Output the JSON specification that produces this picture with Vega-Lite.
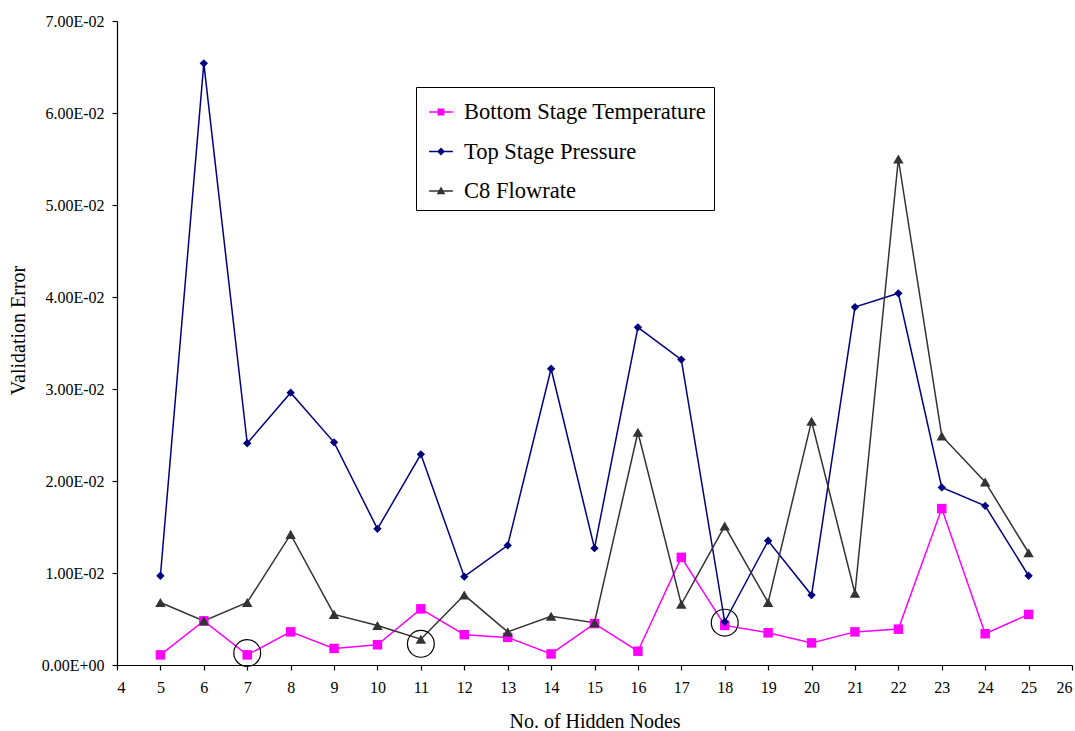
{
  "$schema": "https://vega.github.io/schema/vega-lite/v6.json",
  "width": 955,
  "height": 644,
  "autosize": "none",
  "padding": {"left": 117, "top": 21, "right": 3, "bottom": 66},
  "background": "white",
  "config": {
    "font": "Liberation Serif",
    "view": {"stroke": null},
    "axis": {
      "grid": false,
      "domainColor": "black",
      "tickColor": "black",
      "labelColor": "black",
      "titleColor": "black",
      "labelFont": "Liberation Serif",
      "titleFont": "Liberation Serif",
      "labelFontSize": 16,
      "titleFontSize": 20,
      "titleFontWeight": "normal",
      "tickSize": 5,
      "domainWidth": 1.2,
      "tickWidth": 1.2
    },
    "legend": {
      "labelFont": "Liberation Serif",
      "labelFontSize": 22.5,
      "labelColor": "black",
      "labelLimit": 0
    }
  },
  "datasets": {
    "errors": [
      {"nodes": 5, "series": "Bottom Stage Temperature", "error": 0.0011},
      {"nodes": 6, "series": "Bottom Stage Temperature", "error": 0.0048},
      {"nodes": 7, "series": "Bottom Stage Temperature", "error": 0.0011},
      {"nodes": 8, "series": "Bottom Stage Temperature", "error": 0.0036},
      {"nodes": 9, "series": "Bottom Stage Temperature", "error": 0.0018},
      {"nodes": 10, "series": "Bottom Stage Temperature", "error": 0.0022},
      {"nodes": 11, "series": "Bottom Stage Temperature", "error": 0.0061},
      {"nodes": 12, "series": "Bottom Stage Temperature", "error": 0.0033},
      {"nodes": 13, "series": "Bottom Stage Temperature", "error": 0.0030},
      {"nodes": 14, "series": "Bottom Stage Temperature", "error": 0.0012},
      {"nodes": 15, "series": "Bottom Stage Temperature", "error": 0.0045},
      {"nodes": 16, "series": "Bottom Stage Temperature", "error": 0.0015},
      {"nodes": 17, "series": "Bottom Stage Temperature", "error": 0.0117},
      {"nodes": 18, "series": "Bottom Stage Temperature", "error": 0.0043},
      {"nodes": 19, "series": "Bottom Stage Temperature", "error": 0.0035},
      {"nodes": 20, "series": "Bottom Stage Temperature", "error": 0.0024},
      {"nodes": 21, "series": "Bottom Stage Temperature", "error": 0.0036},
      {"nodes": 22, "series": "Bottom Stage Temperature", "error": 0.0039},
      {"nodes": 23, "series": "Bottom Stage Temperature", "error": 0.0170},
      {"nodes": 24, "series": "Bottom Stage Temperature", "error": 0.0034},
      {"nodes": 25, "series": "Bottom Stage Temperature", "error": 0.0055},
      {"nodes": 5, "series": "Top Stage Pressure", "error": 0.0097},
      {"nodes": 6, "series": "Top Stage Pressure", "error": 0.0654},
      {"nodes": 7, "series": "Top Stage Pressure", "error": 0.0241},
      {"nodes": 8, "series": "Top Stage Pressure", "error": 0.0296},
      {"nodes": 9, "series": "Top Stage Pressure", "error": 0.0242},
      {"nodes": 10, "series": "Top Stage Pressure", "error": 0.0148},
      {"nodes": 11, "series": "Top Stage Pressure", "error": 0.0229},
      {"nodes": 12, "series": "Top Stage Pressure", "error": 0.0096},
      {"nodes": 13, "series": "Top Stage Pressure", "error": 0.0130},
      {"nodes": 14, "series": "Top Stage Pressure", "error": 0.0322},
      {"nodes": 15, "series": "Top Stage Pressure", "error": 0.0127},
      {"nodes": 16, "series": "Top Stage Pressure", "error": 0.0367},
      {"nodes": 17, "series": "Top Stage Pressure", "error": 0.0332},
      {"nodes": 18, "series": "Top Stage Pressure", "error": 0.0047},
      {"nodes": 19, "series": "Top Stage Pressure", "error": 0.0135},
      {"nodes": 20, "series": "Top Stage Pressure", "error": 0.0076},
      {"nodes": 21, "series": "Top Stage Pressure", "error": 0.0389},
      {"nodes": 22, "series": "Top Stage Pressure", "error": 0.0404},
      {"nodes": 23, "series": "Top Stage Pressure", "error": 0.0193},
      {"nodes": 24, "series": "Top Stage Pressure", "error": 0.0173},
      {"nodes": 25, "series": "Top Stage Pressure", "error": 0.0097},
      {"nodes": 5, "series": "C8 Flowrate", "error": 0.0068},
      {"nodes": 6, "series": "C8 Flowrate", "error": 0.0048},
      {"nodes": 7, "series": "C8 Flowrate", "error": 0.0068},
      {"nodes": 8, "series": "C8 Flowrate", "error": 0.0142},
      {"nodes": 9, "series": "C8 Flowrate", "error": 0.0055},
      {"nodes": 10, "series": "C8 Flowrate", "error": 0.0043},
      {"nodes": 11, "series": "C8 Flowrate", "error": 0.0028},
      {"nodes": 12, "series": "C8 Flowrate", "error": 0.0076},
      {"nodes": 13, "series": "C8 Flowrate", "error": 0.0036},
      {"nodes": 14, "series": "C8 Flowrate", "error": 0.0053},
      {"nodes": 15, "series": "C8 Flowrate", "error": 0.0046},
      {"nodes": 16, "series": "C8 Flowrate", "error": 0.0253},
      {"nodes": 17, "series": "C8 Flowrate", "error": 0.0066},
      {"nodes": 18, "series": "C8 Flowrate", "error": 0.0151},
      {"nodes": 19, "series": "C8 Flowrate", "error": 0.0068},
      {"nodes": 20, "series": "C8 Flowrate", "error": 0.0265},
      {"nodes": 21, "series": "C8 Flowrate", "error": 0.0078},
      {"nodes": 22, "series": "C8 Flowrate", "error": 0.0550},
      {"nodes": 23, "series": "C8 Flowrate", "error": 0.0249},
      {"nodes": 24, "series": "C8 Flowrate", "error": 0.0199},
      {"nodes": 25, "series": "C8 Flowrate", "error": 0.0122}
    ],
    "best": [
      {"nodes": 7, "error": 0.0013},
      {"nodes": 11, "error": 0.0023},
      {"nodes": 18, "error": 0.0046}
    ]
  },
  "data": {"name": "errors"},
  "encoding": {
    "x": {
      "field": "nodes",
      "type": "quantitative",
      "scale": {"domain": [4, 26], "nice": false, "zero": false},
      "axis": {
        "title": "No. of Hidden Nodes",
        "values": [4, 5, 6, 7, 8, 9, 10, 11, 12, 13, 14, 15, 16, 17, 18, 19, 20, 21, 22, 23, 24, 25, 26],
        "labelPadding": 9,
        "titleY": 56,
        "titleBaseline": "middle"
      }
    },
    "y": {
      "field": "error",
      "type": "quantitative",
      "scale": {"domain": [0, 0.07], "nice": false},
      "axis": {
        "title": "Validation Error",
        "values": [0, 0.01, 0.02, 0.03, 0.04, 0.05, 0.06, 0.07],
        "labelExpr": "datum.value == 0 ? '0.00E+00' : format(datum.value * 100, '.2f') + 'E-02'",
        "labelPadding": 8,
        "titleX": -99,
        "titleY": 309,
        "titleBaseline": "middle",
        "titleAlign": "center"
      }
    }
  },
  "layer": [
    {
      "mark": {"type": "point", "filled": true, "opacity": 0, "strokeWidth": 1.5},
      "encoding": {
        "fill": {
          "field": "series",
          "type": "nominal",
          "scale": {
            "domain": ["Bottom Stage Temperature", "Top Stage Pressure", "C8 Flowrate"],
            "range": ["#FF00FF", "#000080", "#333333"]
          },
          "legend": {
            "title": null,
            "orient": "none",
            "legendX": 299,
            "legendY": 66,
            "strokeColor": "black",
            "fillColor": "white",
            "padding": 7,
            "symbolSize": 1156,
            "symbolOpacity": 1,
            "symbolStrokeWidth": 1.5,
            "rowPadding": 9.5,
            "labelOffset": 5
          }
        },
        "stroke": {
          "field": "series",
          "type": "nominal",
          "scale": {
            "domain": ["Bottom Stage Temperature", "Top Stage Pressure", "C8 Flowrate"],
            "range": ["#FF00FF", "#000080", "#333333"]
          },
          "legend": {
            "title": null,
            "orient": "none",
            "legendX": 299,
            "legendY": 66,
            "strokeColor": "black",
            "fillColor": "white",
            "padding": 7,
            "symbolSize": 1156,
            "symbolOpacity": 1,
            "symbolStrokeWidth": 1.5,
            "rowPadding": 9.5,
            "labelOffset": 5
          }
        },
        "shape": {
          "field": "series",
          "type": "nominal",
          "scale": {
            "domain": ["Bottom Stage Temperature", "Top Stage Pressure", "C8 Flowrate"],
            "range": [
              "M-0.7,0H0.7M-0.16,-0.16H0.16V0.16H-0.16Z",
              "M-0.7,0H0.7M0,-0.17L0.17,0L0,0.17L-0.17,0Z",
              "M-0.7,0H0.7M0,-0.18L0.18,0.14H-0.18Z"
            ]
          },
          "legend": {
            "title": null,
            "orient": "none",
            "legendX": 299,
            "legendY": 66,
            "strokeColor": "black",
            "fillColor": "white",
            "padding": 7,
            "symbolSize": 1156,
            "symbolOpacity": 1,
            "symbolStrokeWidth": 1.5,
            "rowPadding": 9.5,
            "labelOffset": 5
          }
        }
      }
    },
    {
      "mark": {"type": "line", "strokeWidth": 1.5},
      "encoding": {
        "color": {
          "field": "series",
          "type": "nominal",
          "scale": {
            "domain": ["Bottom Stage Temperature", "Top Stage Pressure", "C8 Flowrate"],
            "range": ["#FF00FF", "#000080", "#333333"]
          },
          "legend": null
        },
        "order": {"field": "nodes", "type": "quantitative"}
      }
    },
    {
      "transform": [{"filter": "datum.series == 'Bottom Stage Temperature'"}],
      "mark": {"type": "point", "shape": "square", "size": 90, "filled": true, "opacity": 1},
      "encoding": {"color": {"field": "series", "type": "nominal", "legend": null}}
    },
    {
      "transform": [{"filter": "datum.series == 'Top Stage Pressure'"}],
      "mark": {"type": "point", "shape": "diamond", "size": 70, "filled": true, "opacity": 1},
      "encoding": {"color": {"field": "series", "type": "nominal", "legend": null}}
    },
    {
      "transform": [{"filter": "datum.series == 'C8 Flowrate'"}],
      "mark": {"type": "point", "shape": "triangle-up", "size": 110, "filled": true, "opacity": 1},
      "encoding": {"color": {"field": "series", "type": "nominal", "legend": null}}
    },
    {
      "data": {"name": "best"},
      "mark": {"type": "point", "shape": "circle", "filled": false, "stroke": "black", "strokeWidth": 1.2, "size": 720, "opacity": 1}
    }
  ]
}
